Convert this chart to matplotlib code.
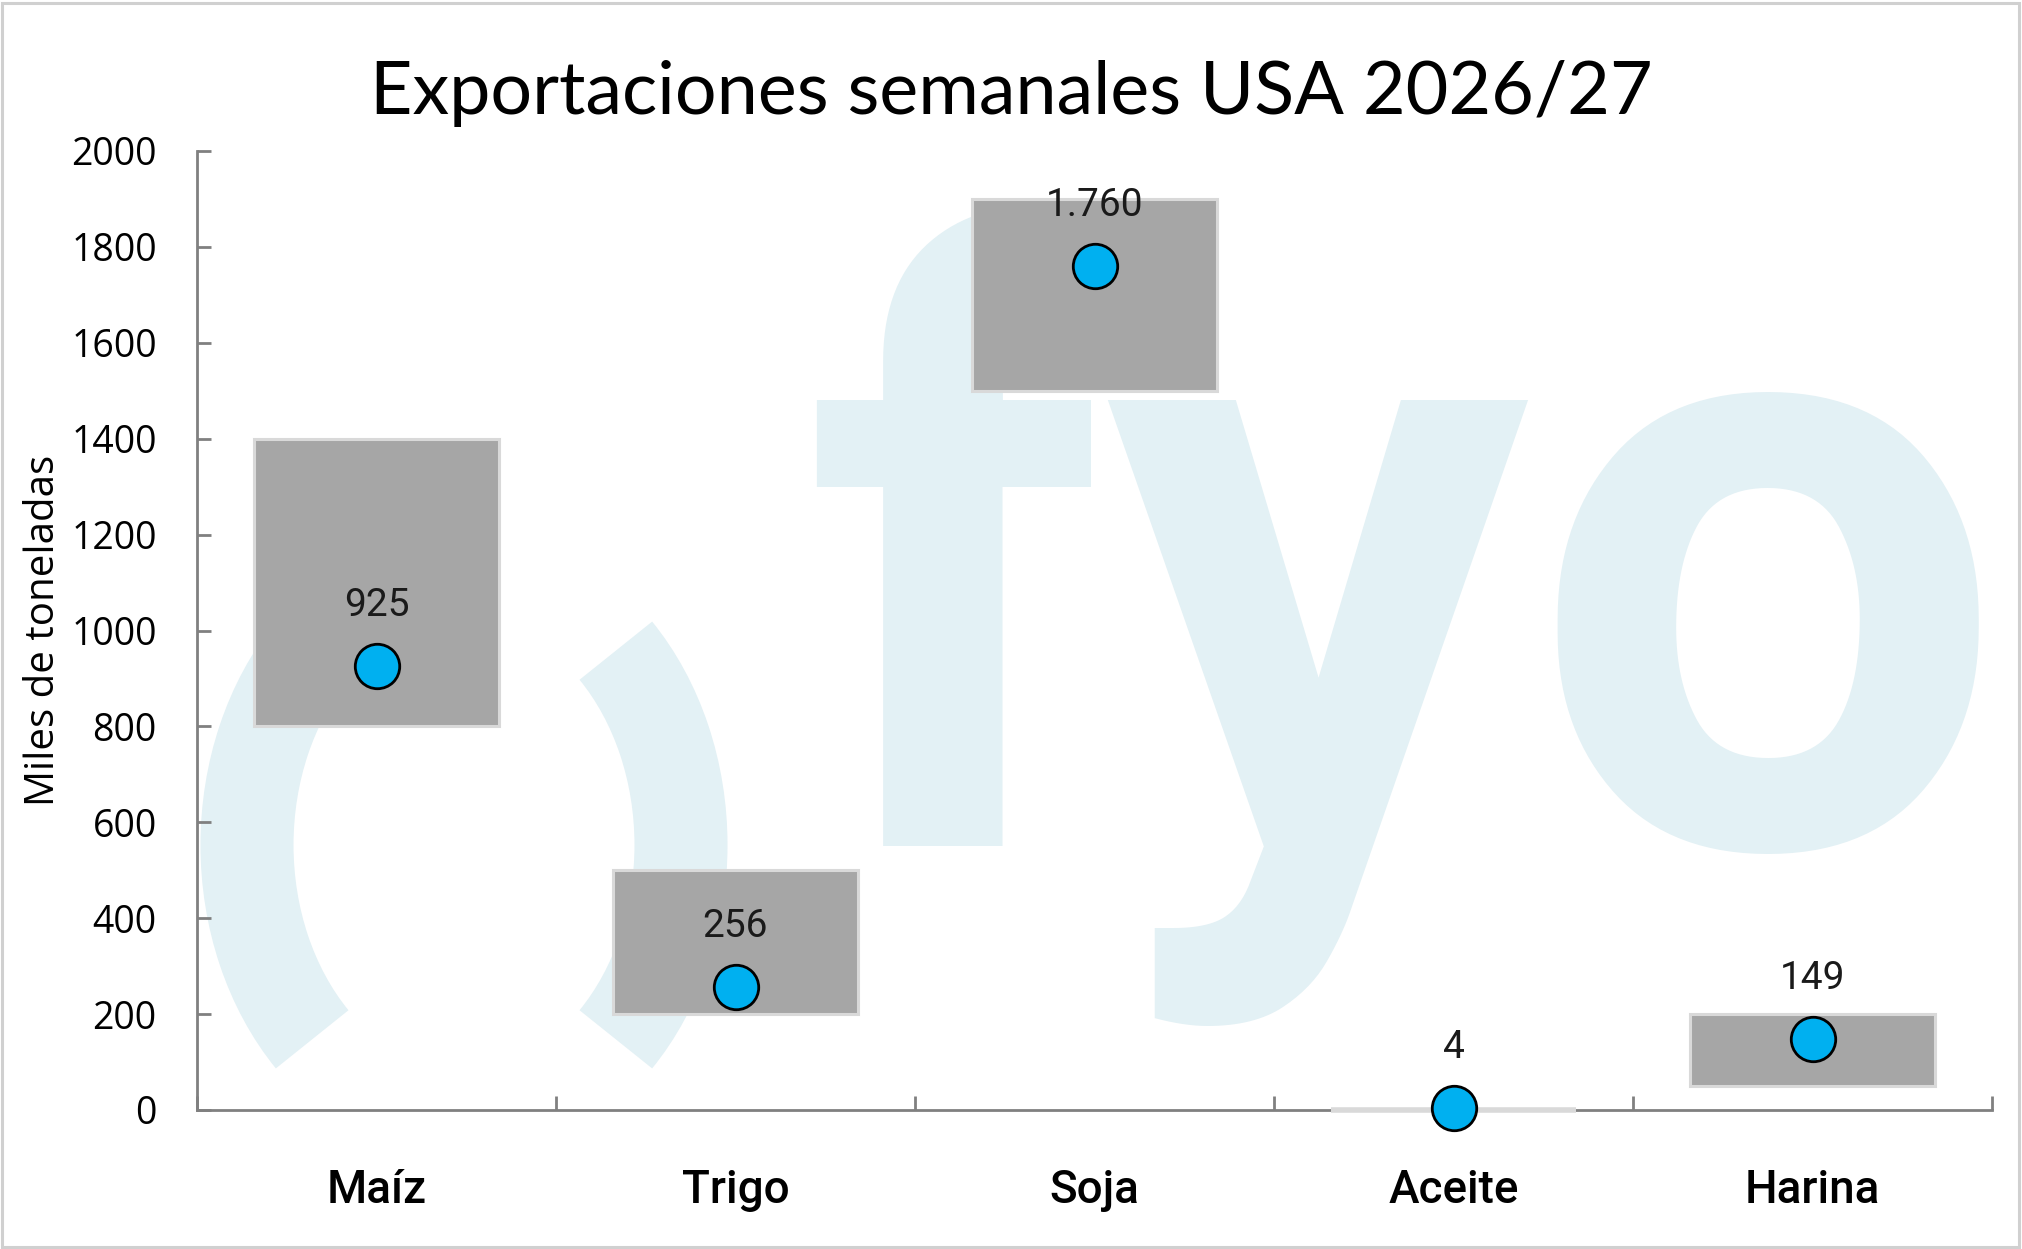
import matplotlib
matplotlib.use("Agg")
import matplotlib.pyplot as plt
from matplotlib.patches import Arc, Rectangle
import numpy as np

# ---- data ----
categories = ["Maíz", "Trigo", "Soja", "Aceite", "Harina"]
range_low = [800, 200, 1500, 0, 50]
range_high = [1400, 500, 1900, 0, 200]
actual = [925, 256, 1760, 4, 149]
y_ticks = [0, 200, 400, 600, 800, 1000, 1200, 1400, 1600, 1800, 2000]
title = "Exportaciones semanales USA 2026/27"
ylabel = "Miles de toneladas"

W, H = 2022, 1249
fig = plt.figure(figsize=(W / 100, H / 100), dpi=100)
fig.patch.set_facecolor("white")

LATO = ["Lato", "DejaVu Sans"]
SANS = ["Open Sans", "DejaVu Sans"]
ROBO = ["Roboto", "DejaVu Sans"]

# ---- watermark background (pixel coordinates) ----
bg = fig.add_axes([0, 0, 1, 1], zorder=0)
bg.set_xlim(0, W)
bg.set_ylim(0, H)
bg.axis("off")
wm = "#e3f1f5"
cx, cy = 464, H - 845
for t1, t2 in [(128, 232), (-52, 52)]:
    bg.add_patch(Arc((cx, cy), 434, 544, theta1=t1, theta2=t2,
                     lw=67, color=wm, capstyle="butt"))
bg.text(804, H - 846, "fyo", fontsize=607, family=ROBO, fontweight="bold",
        color=wm, ha="left", va="baseline")
bg.add_patch(Rectangle((2, 2), W - 5, H - 5, fill=False, ec="#d0d0d0", lw=2.2))

# ---- main axes ----
ax = fig.add_axes([197 / W, 1 - 1110 / H, (1992 - 197) / W, (1110 - 151) / H], zorder=1)
ax.set_facecolor("none")
x = np.arange(len(categories))
heights = [h - l for h, l in zip(range_high, range_low)]
edge_w = [4.0 if h == 0 else 2.2 for h in heights]
ax.bar(x, heights, bottom=range_low, width=0.68, color="#a6a6a6",
       edgecolor="#d9d9d9", linewidth=edge_w, zorder=3, clip_on=False)
ax.plot(x, actual, linestyle="none", marker="o", ms=32, mfc="#00b0f0",
        mec="black", mew=2, zorder=4, clip_on=False)
for xi, v in zip(x, actual):
    lab = f"{v:,}".replace(",", ".")
    ax.annotate(lab, (xi, v), xytext=(0, 36), textcoords="offset points",
                ha="center", va="baseline", fontsize=28, family=ROBO,
                color="#1a1a1a", zorder=5, annotation_clip=False)

ax.set_xlim(-0.5, len(categories) - 0.5)
ax.set_ylim(0, 2000)
ax.set_yticks(y_ticks)
ax.set_yticklabels([str(t) for t in y_ticks], family=SANS, fontsize=27)
ax.set_xticks(np.arange(-0.5, len(categories), 1.0))
ax.set_xticklabels([])
ax.set_xticks(x, minor=True)
ax.set_xticklabels(categories, minor=True, family=ROBO, fontsize=33, fontweight=500)
ax.tick_params(axis="y", direction="in", length=10, width=2, color="#808080", pad=29)
ax.tick_params(axis="x", which="major", direction="in", length=10, width=2, color="#808080")
ax.tick_params(axis="x", which="minor", length=0, pad=42)
for s in ["top", "right"]:
    ax.spines[s].set_visible(False)
for s in ["left", "bottom"]:
    ax.spines[s].set_color("#808080")
    ax.spines[s].set_linewidth(2)

fig.text(0.5, 1 - 114 / H, title, ha="center", va="baseline", fontsize=53,
         family=LATO, color="black")
fig.text(44 / W, 1 - 630 / H, ylabel, rotation=90, ha="center", va="center",
         fontsize=29, family=SANS, color="black")

fig.savefig("out.png", dpi=100)
